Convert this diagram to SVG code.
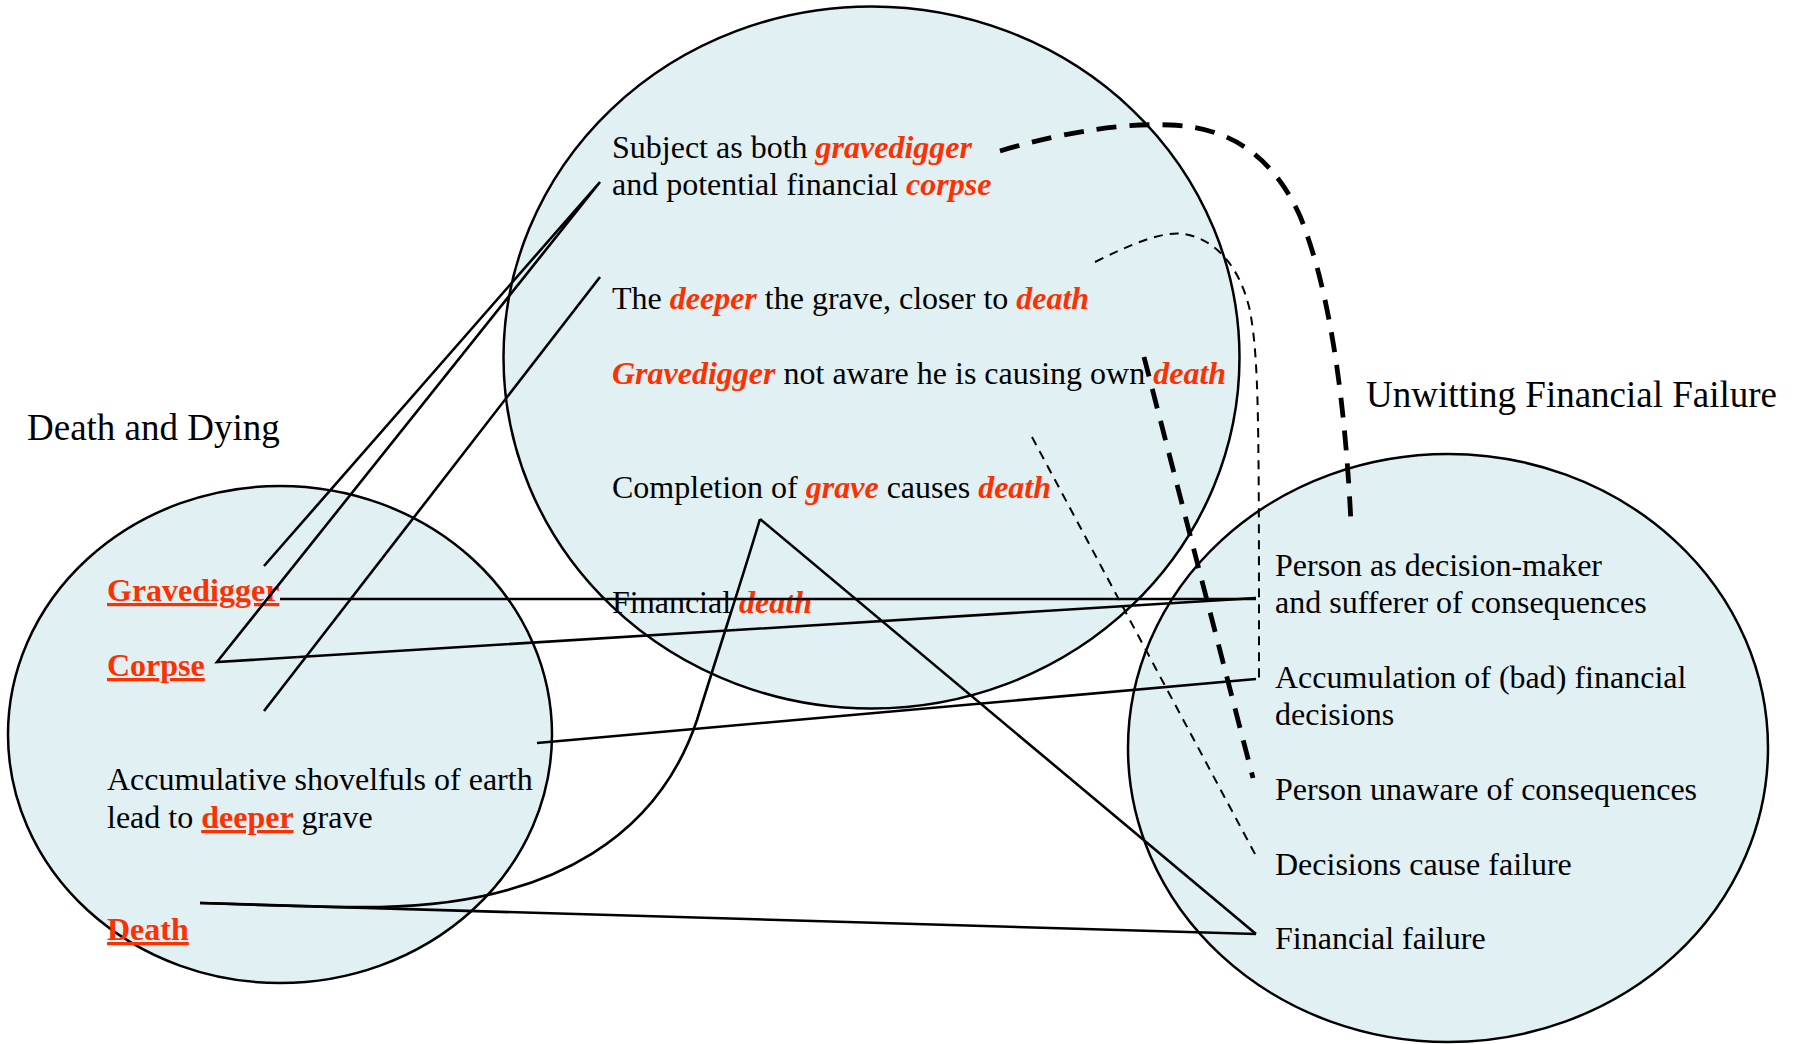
<svg xmlns="http://www.w3.org/2000/svg" width="1801" height="1044" viewBox="0 0 1801 1044">
  <style>
    .area { fill: #E0F0F3; stroke: #000; stroke-width: 2.5; }
    text { font-family: "Liberation Serif", "Times New Roman", serif; font-size: 32px; fill: #000; }
    .title { font-size: 37px; }
    .hl { fill: #FF3000; font-weight: bold; font-style: italic; }
    .key { fill: #FF3000; font-weight: bold; text-decoration: underline; }
    .link { fill: none; stroke: #000; stroke-width: 2.6; }
    .strong { fill: none; stroke: #000; stroke-width: 4.8; stroke-dasharray: 20 13; }
    .weak { fill: none; stroke: #000; stroke-width: 2; stroke-dasharray: 9 7; }
  </style>

  <rect width="1801" height="1044" fill="#fff"/>

  <!-- Areas (ellipses) -->
  <g id="area-death">
    <ellipse class="area" cx="280" cy="734.5" rx="272" ry="248.5"/>
  </g>
  <g id="area-source">
    <ellipse class="area" cx="871.5" cy="357.5" rx="368" ry="351"/>
  </g>
  <g id="area-failure">
    <ellipse class="area" cx="1448" cy="748" rx="320" ry="294"/>
  </g>

  <!-- Area titles -->
  <g id="title-death">
    <text class="title" x="27" y="440">Death and Dying</text>
  </g>
  <g id="title-failure">
    <text class="title" x="1366" y="407">Unwitting Financial Failure</text>
  </g>

  <!-- Central area statements -->
  <g id="node-subject">
    <text x="612" y="158">Subject as both <tspan class="hl">gravedigger</tspan></text>
    <text x="612" y="195">and potential financial <tspan class="hl">corpse</tspan></text>
  </g>
  <g id="node-deeper">
    <text x="612" y="309">The <tspan class="hl">deeper</tspan> the grave, closer to <tspan class="hl">death</tspan></text>
  </g>
  <g id="node-unaware">
    <text x="612" y="384"><tspan class="hl">Gravedigger</tspan> not aware he is causing own <tspan class="hl">death</tspan></text>
  </g>
  <g id="node-completion">
    <text x="612" y="498">Completion of <tspan class="hl">grave</tspan> causes <tspan class="hl">death</tspan></text>
  </g>
  <g id="node-fin-death">
    <text x="612" y="613">Financial <tspan class="hl">death</tspan></text>
  </g>

  <!-- Left area statements -->
  <g id="node-gravedigger">
    <text class="key" x="107" y="601">Gravedigger</text>
  </g>
  <g id="node-corpse">
    <text class="key" x="107" y="676">Corpse</text>
  </g>
  <g id="node-shovelfuls">
    <text x="107" y="790">Accumulative shovelfuls of earth</text>
    <text x="107" y="828">lead to <tspan class="key">deeper</tspan> grave</text>
  </g>
  <g id="node-death">
    <text class="key" x="107" y="940">Death</text>
  </g>

  <!-- Right area statements -->
  <g id="node-person">
    <text x="1275" y="576">Person as decision-maker</text>
    <text x="1275" y="613">and sufferer of consequences</text>
  </g>
  <g id="node-accumulation">
    <text x="1275" y="688">Accumulation of (bad) financial</text>
    <text x="1275" y="725">decisions</text>
  </g>
  <g id="node-person-unaware">
    <text x="1275" y="800">Person unaware of consequences</text>
  </g>
  <g id="node-decisions">
    <text x="1275" y="875">Decisions cause failure</text>
  </g>
  <g id="node-fin-failure">
    <text x="1275" y="949">Financial failure</text>
  </g>

  <!-- Connectors -->
  <g id="connectors">
    <!-- solid mappings -->
    <polyline class="link" points="264,566 600,182 217,662 1256,598"/>
    <line class="link" x1="280" y1="599" x2="1256" y2="599"/>
    <line class="link" x1="264" y1="711" x2="600" y2="277"/>
    <line class="link" x1="537" y1="743" x2="1256" y2="679"/>
    <line class="link" x1="200" y1="903" x2="1256" y2="934"/>
    <line class="link" x1="760" y1="519" x2="1256" y2="934"/>
    <path class="link" d="M200,903 C300,906 340,908 380,907 C560,904 660,830 697,720 C725,630 745,570 760,519"/>

    <!-- heavy dashed links -->
    <path class="strong" d="M1000,151 C1070,130 1130,123 1170,125 C1235,127 1275,161 1300,216 C1330,290 1345,400 1351,523"/>
    <line class="strong" x1="1144" y1="357" x2="1253" y2="778"/>

    <!-- light dashed links -->
    <path class="weak" d="M1095,262 C1130,245 1160,231 1184,234 C1215,239 1240,266 1250,311 C1259,360 1259,420 1259,679"/>
    <line class="weak" x1="1032" y1="437" x2="1255" y2="854"/>
  </g>
</svg>
